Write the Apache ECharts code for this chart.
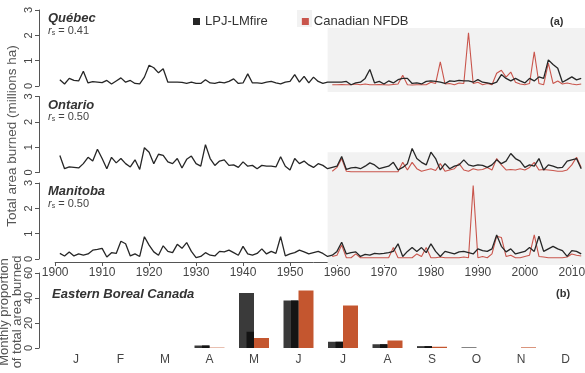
<!DOCTYPE html>
<html>
<head>
<meta charset="utf-8">
<script src="https://cdn.jsdelivr.net/npm/echarts@6/dist/echarts.min.js"></script>
<style>
  html, body { margin: 0; padding: 0; background: #fff; }
  #main { width: 585px; height: 373px; }
</style>
</head>
<body>
<div id="main"></div>
<script>
// annual burned area (millions ha), LPJ-LMfire 1901-2012, NFDB 1959-2012
const lpjStart = 1901
const nfdbStart = 1959

const quebecLpj = [
  0.25, 0.08, 0.30, 0.22, 0.20, 0.58, 0.12, 0.17, 0.15, 0.13,
  0.22, 0.08, 0.20, 0.32, 0.15, 0.22, 0.10, 0.08, 0.35, 0.82,
  0.72, 0.52, 0.68, 0.15, 0.15, 0.15, 0.14, 0.10, 0.15, 0.10,
  0.10, 0.25, 0.12, 0.10, 0.15, 0.12, 0.18, 0.28, 0.10, 0.12,
  0.48, 0.12, 0.12, 0.10, 0.15, 0.18, 0.12, 0.08, 0.15, 0.18,
  0.45, 0.15, 0.38, 0.12, 0.35, 0.18, 0.10, 0.15, 0.15, 0.15,
  0.15, 0.18, 0.05, 0.12, 0.15, 0.30, 0.65, 0.12, 0.18, 0.08,
  0.20, 0.12, 0.25, 0.30, 0.30, 0.10, 0.12, 0.08, 0.18, 0.20,
  0.18, 0.15, 0.10, 0.20, 0.18, 0.22, 0.20, 0.20, 0.15, 0.25,
  0.15, 0.12, 0.08, 0.15, 0.45, 0.30, 0.20, 0.30, 0.20, 0.12,
  0.30, 0.20, 0.36, 0.30, 1.03, 0.85, 0.70, 0.15, 0.25, 0.36,
  0.24, 0.30
]
const quebecNfdb = [
  0.05, 0.05, 0.06, 0.05, 0.05, 0.08, 0.05, 0.08, 0.05, 0.05,
  0.06, 0.05, 0.04, 0.06, 0.08, 0.42, 0.05, 0.04, 0.05, 0.05,
  0.05, 0.15, 0.10, 0.95, 0.08, 0.10, 0.05, 0.12, 0.10, 2.10,
  0.10, 0.15, 0.05, 0.10, 0.05, 0.50, 0.62, 0.35, 0.55, 0.15,
  0.08, 0.05, 0.10, 1.35, 0.10, 0.05, 0.90, 0.10, 0.20, 0.08,
  0.12, 0.08, 0.05, 0.08
]
const ontarioLpj = [
  0.67, 0.15, 0.22, 0.20, 0.18, 0.35, 0.60, 0.45, 0.92, 0.55,
  0.15, 0.60, 0.38, 0.55, 0.35, 0.22, 0.50, 0.12, 0.98, 0.80,
  0.35, 0.72, 0.68, 0.42, 0.35, 0.55, 0.18, 0.52, 0.65, 0.35,
  0.25, 1.10, 0.55, 0.28, 0.45, 0.50, 0.28, 0.30, 0.20, 0.42,
  0.25, 0.28, 0.15, 0.28, 0.25, 0.25, 0.22, 0.62, 0.25, 0.10,
  0.55, 0.35, 0.45, 0.30, 0.20, 0.35, 0.28, 0.15, 0.20, 0.25,
  0.63, 0.12, 0.18, 0.20, 0.15, 0.25, 0.38, 0.30, 0.15, 0.20,
  0.25, 0.40, 0.10, 0.20, 0.35, 0.95, 0.55, 0.40, 0.30, 0.80,
  0.55, 0.10, 0.35, 0.15, 0.25, 0.30, 0.50, 0.30, 0.25, 0.30,
  0.28, 0.20, 0.30, 0.50, 0.35, 0.45, 0.75, 0.55, 0.45, 0.20,
  0.30, 0.25, 0.55, 0.10, 0.30, 0.25, 0.18, 0.20, 0.45, 0.50,
  0.55, 0.15
]
const ontarioNfdb = [
  0.05, 0.20, 0.55, 0.05, 0.03, 0.03, 0.03, 0.03, 0.03, 0.03,
  0.03, 0.03, 0.03, 0.03, 0.03, 0.40, 0.10, 0.40, 0.15, 0.05,
  0.10, 0.15, 0.08, 0.35, 0.05, 0.10, 0.15, 0.35, 0.10, 0.05,
  0.15, 0.10, 0.12, 0.20, 0.10, 0.55, 0.30, 0.10, 0.12, 0.10,
  0.15, 0.10, 0.20, 0.40, 0.10, 0.12, 0.10, 0.08, 0.05, 0.05,
  0.10, 0.30, 0.60, 0.20
]
const manitobaLpj = [
  0.22, 0.12, 0.28, 0.12, 0.20, 0.15, 0.20, 0.35, 0.38, 0.42,
  0.08, 0.25, 0.22, 0.70, 0.60, 0.12, 0.20, 0.10, 0.88, 0.55,
  0.28, 0.15, 0.52, 0.30, 0.25, 0.58, 0.42, 0.65, 0.30, 0.05,
  0.10, 0.25, 0.15, 0.12, 0.30, 0.28, 0.35, 0.25, 0.15, 0.50,
  0.20, 0.15, 0.22, 0.40, 0.20, 0.30, 0.22, 0.88, 0.12, 0.20,
  0.25, 0.35, 0.28, 0.20, 0.25, 0.30, 0.22, 0.10, 0.15, 0.30,
  0.66, 0.20, 0.25, 0.28, 0.10, 0.18, 0.15, 0.22, 0.20, 0.22,
  0.25, 0.30, 0.60, 0.10, 0.30, 0.45, 0.30, 0.45, 0.25, 0.60,
  0.30, 0.10, 0.30, 0.25, 0.20, 0.28, 0.30, 0.25, 0.20, 0.40,
  0.33, 0.30, 0.40, 0.95, 0.50, 0.28, 0.40, 0.20, 0.25, 0.30,
  0.45, 0.30, 0.90, 0.30, 0.40, 0.50, 0.40, 0.33, 0.10, 0.33,
  0.30, 0.20
]
const manitobaNfdb = [
  0.10, 0.15, 0.55, 0.05, 0.05, 0.20, 0.05, 0.05, 0.05, 0.05,
  0.05, 0.05, 0.05, 0.45, 0.05, 0.05, 0.05, 0.05, 0.20, 0.10,
  0.45, 0.05, 0.05, 0.08, 0.05, 0.05, 0.05, 0.05, 0.08, 0.05,
  2.90, 0.05, 0.10, 0.05, 0.20, 0.90, 0.85, 0.10, 0.15, 0.05,
  0.05, 0.10, 0.15, 0.95, 0.10, 0.08, 0.05, 0.05, 0.05, 0.05,
  0.08, 0.20, 0.15, 0.12
]

// monthly proportion of total area burned (%), Eastern Boreal Canada
const months = ['J', 'F', 'M', 'A', 'M', 'J', 'J', 'A', 'S', 'O', 'N', 'D']
const monthLpj = [0, 0, 0, 2, 44, 38, 5, 3, 1.5, 0.5, 0, 0]
const monthLpjDark = [0, 0, 0, 2, 13, 38, 5, 3, 1.5, 0, 0, 0]
const monthNfdb = [0, 0, 0, 0.3, 8, 46, 34, 6, 1, 0, 0.5, 0]

const panels = [
  {name: 'Québec', rs: '0.41', lpj: quebecLpj, nfdb: quebecNfdb, y3: 10, y0: 86, shadeTop: 2.29},
  {name: 'Ontario', rs: '0.50', lpj: ontarioLpj, nfdb: ontarioNfdb, y3: 96.5, y0: 172.5, shadeTop: 0.8},
  {name: 'Manitoba', rs: '0.50', lpj: manitobaLpj, nfdb: manitobaNfdb, y3: 183, y0: 259, shadeTop: 3.2}
]

const BLACK = '#262626'
const RED = '#c9554c'
const BAR_RED = '#c4562f'
const XMIN = 1896.56
const XMAX = 2016.44
const YLO = -0.24
const YHI = 3.2
const PX_YEAR = 4.697

const toPairs = (arr, start) => arr.map((v, i) => [start + i, v])

const grids = []
const xAxes = []
const yAxes = []
const series = []
const graphics = []

const addGrid = g => {
  grids.push(Object.assign({outerBoundsMode: 'none', containLabel: false}, g))
  return grids.length - 1
}

panels.forEach((p, i) => {
  const unit = (p.y0 - p.y3) / 3
  // data grid (no axes drawn)
  addGrid({left: 39, width: (XMAX - XMIN) * PX_YEAR, top: p.y0 - YHI * unit, height: (YHI - YLO) * unit})
  xAxes.push({type: 'value', gridIndex: i, min: XMIN, max: XMAX, show: false})
  yAxes.push({type: 'value', gridIndex: i, min: YLO, max: YHI, show: false})
  series.push({
    type: 'line', xAxisIndex: i, yAxisIndex: i, data: [], silent: true, z: 0,
    markArea: {
      silent: true,
      itemStyle: {color: '#f2f2f2'},
      data: [[{xAxis: 1958, yAxis: p.shadeTop}, {xAxis: XMAX, yAxis: YLO}]]
    }
  })
  series.push({
    name: 'LPJ-LMfire', type: 'line', xAxisIndex: i, yAxisIndex: i, z: 3,
    data: toPairs(p.lpj, lpjStart), showSymbol: false, color: BLACK,
    lineStyle: {width: 1.3, color: BLACK}
  })
  series.push({
    name: 'Canadian NFDB', type: 'line', xAxisIndex: i, yAxisIndex: i, z: 2,
    data: toPairs(p.nfdb, nfdbStart), showSymbol: false, color: RED,
    lineStyle: {width: 1.1, color: RED}
  })
  graphics.push({
    type: 'text', left: 48, top: p.y3 + 2,
    style: {text: p.name, font: 'italic bold 13px "Liberation Sans", Arial', fill: '#333'}
  })
  graphics.push({
    type: 'text', left: 48, top: p.y3 + 15,
    style: {
      text: '{i|r}{s|s}{n| = ' + p.rs + '}',
      rich: {
        i: {fontFamily: 'Liberation Sans', fontStyle: 'italic', fontSize: 11, fill: '#444'},
        s: {fontFamily: 'Liberation Sans', fontSize: 7, fill: '#444', padding: [5, 0, 0, 0]},
        n: {fontFamily: 'Liberation Sans', fontSize: 11, fill: '#444'}
      }
    }
  })
})

// tick axes for the three line panels (axis line spans 0..3 only)
panels.forEach(p => {
  const gi = addGrid({left: 39, width: 10, top: p.y3, height: p.y0 - p.y3})
  xAxes.push({type: 'value', gridIndex: gi, min: 0, max: 1, show: false})
  yAxes.push({
    type: 'value', gridIndex: gi, min: 0, max: 3, interval: 1,
    axisLine: {show: true, lineStyle: {color: '#555', width: 1}},
    axisTick: {show: true, length: 4, lineStyle: {color: '#555'}},
    axisLabel: {rotate: 90, margin: 5, fontSize: 11, color: '#444', fontFamily: 'Liberation Sans'},
    splitLine: {show: false}
  })
})

// year axis under the Manitoba panel (1900..2010)
const yearGrid = addGrid({left: 39 + (1900 - XMIN) * PX_YEAR, width: 110 * PX_YEAR, top: 250, height: 12})
xAxes.push({
  type: 'value', gridIndex: yearGrid, min: 1900, max: 2010, interval: 10,
  axisLine: {show: true, onZero: false, lineStyle: {color: '#555', width: 1}},
  axisTick: {show: true, length: 4, lineStyle: {color: '#555'}},
  axisLabel: {margin: 5, fontSize: 12, color: '#444', fontFamily: 'Liberation Sans', formatter: v => String(v)},
  splitLine: {show: false}
})
yAxes.push({type: 'value', gridIndex: yearGrid, min: 0, max: 1, show: false})

// monthly bar panel
const barGrid = addGrid({left: 53.75, width: 534, top: 273, height: 75})
xAxes.push({
  type: 'category', gridIndex: barGrid, data: months,
  axisLine: {show: false}, axisTick: {show: false},
  axisLabel: {margin: 6, fontSize: 12, color: '#444', fontFamily: 'Liberation Sans'}
})
yAxes.push({type: 'value', gridIndex: barGrid, min: 0, max: 60, show: false})
xAxes.push({type: 'category', gridIndex: barGrid, data: months, show: false})
const barX = xAxes.length - 2
const barX2 = xAxes.length - 1
const barY = yAxes.length - 1

series.push({
  name: 'LPJ-LMfire', type: 'bar', xAxisIndex: barX, yAxisIndex: barY,
  data: monthLpj, barWidth: 15, barGap: '0%', itemStyle: {color: '#3a3a3a'}
})
series.push({
  name: 'Canadian NFDB', type: 'bar', xAxisIndex: barX, yAxisIndex: barY,
  data: monthNfdb, barWidth: 15, itemStyle: {color: BAR_RED}
})
// darker half of the LPJ-LMfire bar, placed with spacer series on a twin axis
series.push({type: 'bar', xAxisIndex: barX2, yAxisIndex: barY, data: [], barWidth: 7.5, barGap: '0%'})
series.push({
  type: 'bar', xAxisIndex: barX2, yAxisIndex: barY, data: monthLpjDark, barWidth: 7.5,
  itemStyle: {color: '#141414'}, z: 3
})
series.push({type: 'bar', xAxisIndex: barX2, yAxisIndex: barY, data: [], barWidth: 15})

// bar panel tick axis at x = 39
const barAxisGrid = addGrid({left: 39, width: 10, top: 273, height: 75})
xAxes.push({type: 'value', gridIndex: barAxisGrid, min: 0, max: 1, show: false})
yAxes.push({
  type: 'value', gridIndex: barAxisGrid, min: 0, max: 60, interval: 20,
  axisLine: {show: true, lineStyle: {color: '#555', width: 1}},
  axisTick: {show: true, length: 4, lineStyle: {color: '#555'}},
  axisLabel: {rotate: 90, margin: 5, fontSize: 11, color: '#444', fontFamily: 'Liberation Sans'},
  splitLine: {show: false}
})

graphics.push(
  {type: 'rect', shape: {x: 297, y: 10, width: 15, height: 17}, style: {fill: '#f2f2f2'}, z: -1},
  {type: 'text', left: 52, top: 288,
   style: {text: 'Eastern Boreal Canada', font: 'italic bold 13px "Liberation Sans", Arial', fill: '#333'}},
  {type: 'text', left: 550, top: 16,
   style: {text: '(a)', font: 'bold 11px "Liberation Sans", Arial', fill: '#333'}},
  {type: 'text', left: 556, top: 288,
   style: {text: '(b)', font: 'bold 11px "Liberation Sans", Arial', fill: '#333'}},
  {type: 'text', x: 12, y: 136, rotation: Math.PI / 2,
   style: {text: 'Total area burned (millions ha)', font: '13.5px "Liberation Sans", Arial',
           fill: '#555', align: 'center', verticalAlign: 'middle'}},
  {type: 'text', x: 10.5, y: 312, rotation: Math.PI / 2,
   style: {text: 'Monthly proportion\nof total area burned', font: '13px "Liberation Sans", Arial',
           fill: '#555', align: 'center', verticalAlign: 'middle', lineHeight: 13}}
)

const chart = echarts.init(document.getElementById('main'))
chart.setOption({
  animation: false,
  backgroundColor: '#fff',
  legend: {
    data: ['LPJ-LMfire', 'Canadian NFDB'],
    left: 188, top: 10,
    icon: 'rect', itemWidth: 7, itemHeight: 7, itemGap: 34,
    textStyle: {fontSize: 13, color: '#333', fontFamily: 'Liberation Sans'}
  },
  grid: grids,
  xAxis: xAxes,
  yAxis: yAxes,
  series: series,
  graphic: graphics
})
</script>
</body>
</html>
